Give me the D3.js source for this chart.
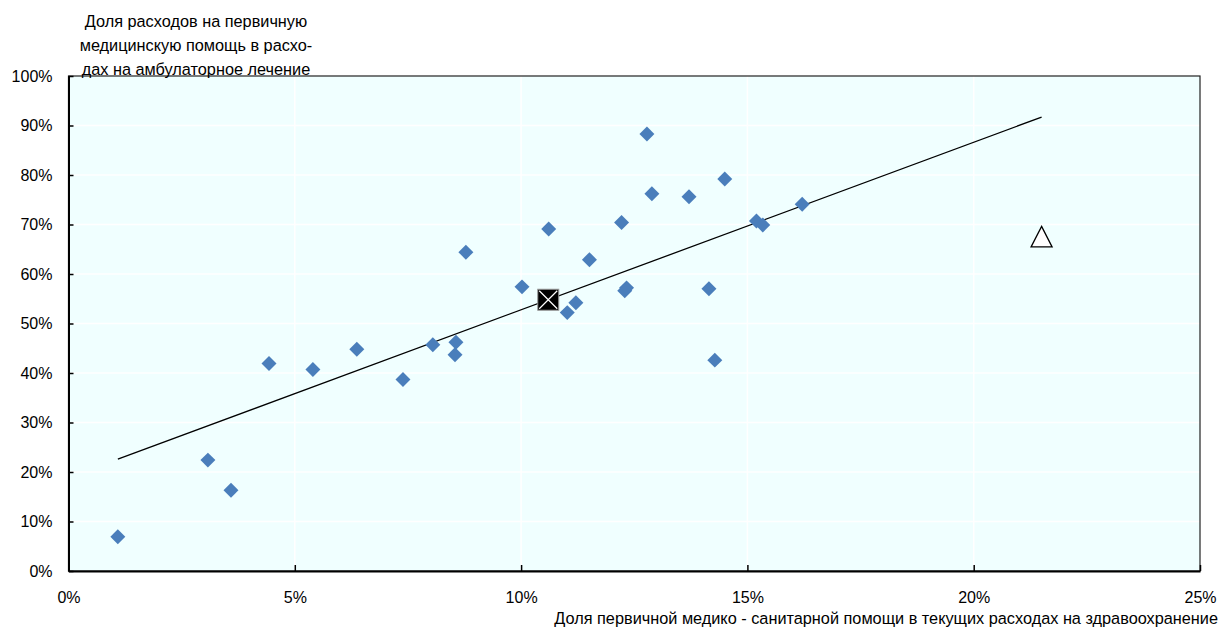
<!DOCTYPE html>
<html><head><meta charset="utf-8">
<script src="https://cdn.jsdelivr.net/npm/d3@7"></script>
<style>
body{margin:0;background:#fff;}
text{font-family:"Liberation Sans Narrow","Arial Narrow","Liberation Sans",Arial,sans-serif;fill:#000;}
</style></head>
<body><svg id="c" width="1224" height="628"></svg>
<script>
// Country points: share of primary care in current health expenditure (%), share in outpatient spending (%)
const countryX = [1.09, 3.08, 3.59, 4.43, 5.40, 6.37, 7.39, 8.05, 8.54, 8.56, 8.78, 10.02, 10.61, 11.02, 11.21, 11.51, 12.22, 12.29, 12.33, 12.78, 12.89, 13.71, 14.15, 14.28, 14.50, 15.20, 15.34, 16.21];
const countryY = [6.9, 22.4, 16.3, 41.9, 40.7, 44.8, 38.7, 45.7, 43.7, 46.2, 64.4, 57.4, 69.1, 52.2, 54.2, 62.9, 70.4, 56.6, 57.2, 88.3, 76.2, 75.6, 57.0, 42.6, 79.2, 70.7, 69.9, 74.1];
const averageX = [10.6];
const averageY = [54.8];
const outlierX = [21.5];
const outlierY = [67.5];
const trendX = [1.09, 21.5];
const trendY = [22.6, 91.7];
const xTicks = [0, 5, 10, 15, 20, 25];
const yTicks = [0, 10, 20, 30, 40, 50, 60, 70, 80, 90, 100];
const yTitle = ["Доля расходов на первичную", "медицинскую помощь в расхо-", "дах на амбулаторное лечение"];
const xTitle = "Доля первичной медико - санитарной помощи в текущих расходах на здравоохранение";

const svg = d3.select("#c");
const L = 68.5, R = 1200, T = 76, B = 571;
const x = d3.scaleLinear().domain([0, 25]).range([L, R]);
const y = d3.scaleLinear().domain([0, 100]).range([B, T]);

svg.append("rect").attr("x", L).attr("y", T).attr("width", R - L).attr("height", B - T).attr("fill", "#f0ffff");

// grid
svg.append("g").selectAll("line").data(yTicks.slice(1, -1)).join("line")
  .attr("x1", L).attr("x2", R).attr("y1", d => y(d)).attr("y2", d => y(d))
  .attr("stroke", "#fff").attr("stroke-width", 1.5);
svg.append("g").selectAll("line").data(xTicks.slice(1, -1)).join("line")
  .attr("y1", T).attr("y2", B).attr("x1", d => x(d)).attr("x2", d => x(d))
  .attr("stroke", "#fff").attr("stroke-width", 1.5);

// border
svg.append("rect").attr("x", L).attr("y", T).attr("width", R - L).attr("height", B - T)
  .attr("fill", "none").attr("stroke", "#222").attr("stroke-width", 1.2);

// axes
const yAxis = d3.axisLeft(y).tickValues(yTicks).tickFormat(d => d + "%").tickSizeInner(-5).tickSizeOuter(0).tickPadding(16);
const gy = svg.append("g").attr("transform", `translate(${L},0)`).call(yAxis);
const xAxis = d3.axisBottom(x).tickValues(xTicks).tickFormat(d => d + "%").tickSizeInner(-6).tickSizeOuter(0).tickPadding(21);
const gx = svg.append("g").attr("transform", `translate(0,${B})`).call(xAxis);
[gy, gx].forEach(g => {
  g.select(".domain").attr("stroke", "#000").attr("stroke-width", 2);
  g.selectAll(".tick line").attr("stroke", "#000").attr("stroke-width", 1.5);
  g.selectAll(".tick text").attr("font-size", 16).attr("font-family", null);
});

// trend line
svg.append("line")
  .attr("x1", x(trendX[0])).attr("y1", y(trendY[0]))
  .attr("x2", x(trendX[1])).attr("y2", y(trendY[1]))
  .attr("stroke", "#000").attr("stroke-width", 1.3);

// diamonds
const pts = countryX.map((v, i) => ({ x: v, y: countryY[i] }));
svg.append("g").selectAll("path").data(pts).join("path")
  .attr("d", d3.symbol(d3.symbolSquare, 112))
  .attr("transform", d => `translate(${x(d.x)},${y(d.y)}) rotate(45)`)
  .attr("fill", "#4a7ebb");

// average marker
const s = 10.5;
averageX.forEach((v, i) => {
  const cx = x(v), cy = y(averageY[i]);
  const g = svg.append("g");
  g.append("rect").attr("x", cx - s).attr("y", cy - s).attr("width", 2 * s).attr("height", 2 * s)
    .attr("fill", "#000").attr("stroke", "#999").attr("stroke-width", 1);
  g.append("path").attr("d", `M${cx - s + 1.5},${cy - s + 1.5}L${cx + s - 1.5},${cy + s - 1.5}M${cx + s - 1.5},${cy - s + 1.5}L${cx - s + 1.5},${cy + s - 1.5}`)
    .attr("stroke", "#fff").attr("stroke-width", 1.2);
});

// outlier triangle
outlierX.forEach((v, i) => {
  const cx = x(v), cy = y(outlierY[i]);
  svg.append("path").attr("d", `M${cx},${cy - 10.5}L${cx + 10.5},${cy + 10}L${cx - 10.5},${cy + 10}Z`)
    .attr("fill", "#fff").attr("stroke", "#000").attr("stroke-width", 1.3);
});

// titles
svg.append("text").attr("text-anchor", "middle").attr("font-size", 16.3)
  .selectAll("tspan").data(yTitle).join("tspan")
  .attr("x", 196).attr("y", (d, i) => 27 + i * 24).text(d => d);
svg.append("text").attr("text-anchor", "end").attr("font-size", 16.3)
  .attr("x", 1218).attr("y", 624).text(xTitle);
</script></body></html>
